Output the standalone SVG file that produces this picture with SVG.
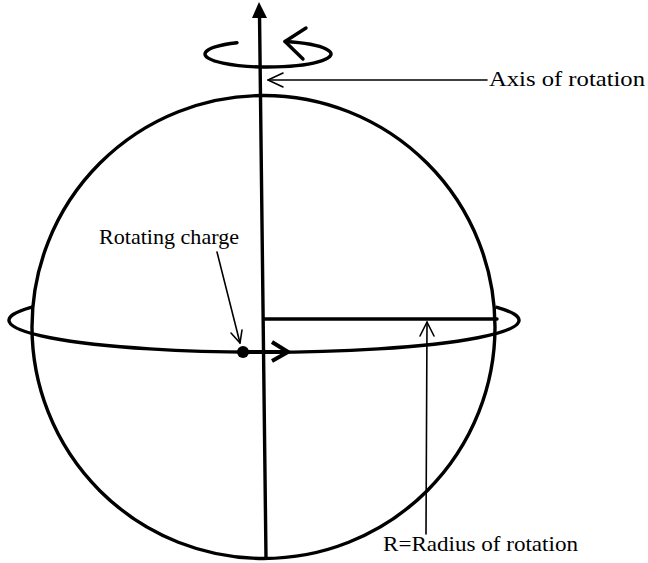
<svg xmlns="http://www.w3.org/2000/svg" width="648" height="563" viewBox="0 0 648 563">
<style>
.thick{fill:none;stroke:#000;stroke-width:3.4;stroke-linecap:round;stroke-linejoin:round}
.thin{fill:none;stroke:#000;stroke-width:1.6;stroke-linecap:round;stroke-linejoin:round}
.lbl{font-family:"Liberation Serif","Times New Roman",serif;font-size:22px;fill:#000}
</style>
<rect width="648" height="563" fill="#fff"/>
<g id="sphere">
<circle class="thick" cx="263.5" cy="327" r="231.5"/>
</g>
<g id="equator">
<path class="thick" d="M31,307.3 A255,32 0 1 0 497,307.3"/>
</g>
<g id="rotation-ring">
<path class="thick" d="M237,42.7 A63,13 0 1 0 285,41.5"/>
<path class="thick" d="M306,28 L285,41.5 L303,59"/>
</g>
<g id="axis">
<line class="thick" x1="259.5" y1="14" x2="266" y2="558"/>
<path d="M259,2 L252,18 L267,18 Z" fill="#000"/>
</g>
<g id="radius">
<line class="thick" x1="265" y1="319" x2="497" y2="319"/>
</g>
<g id="charge">
<circle cx="243" cy="352" r="6" fill="#000"/>
<line x1="243" y1="352" x2="286" y2="352" stroke="#000" stroke-width="4"/>
<path d="M272,342 L288,352 L272,361" fill="none" stroke="#000" stroke-width="4" stroke-linejoin="miter"/>
</g>
<g id="connectors">
<line class="thin" x1="217" y1="252" x2="240" y2="343"/>
<path class="thin" d="M231,333 L240,343 L242,330"/>
<line class="thin" x1="268" y1="80" x2="487" y2="80"/>
<path class="thin" d="M283,73 L268,80 L283,87"/>
<line class="thin" x1="427" y1="322" x2="426" y2="534"/>
<path class="thin" d="M420,336 L427,322 L434,336"/>
</g>
<g id="labels">
<text class="lbl" x="489" y="86" textLength="156" lengthAdjust="spacingAndGlyphs">Axis of rotation</text>
<text class="lbl" x="99" y="244" textLength="140" lengthAdjust="spacingAndGlyphs">Rotating charge</text>
<text class="lbl" x="383" y="551" textLength="195" lengthAdjust="spacingAndGlyphs">R=Radius of rotation</text>
</g>
</svg>
